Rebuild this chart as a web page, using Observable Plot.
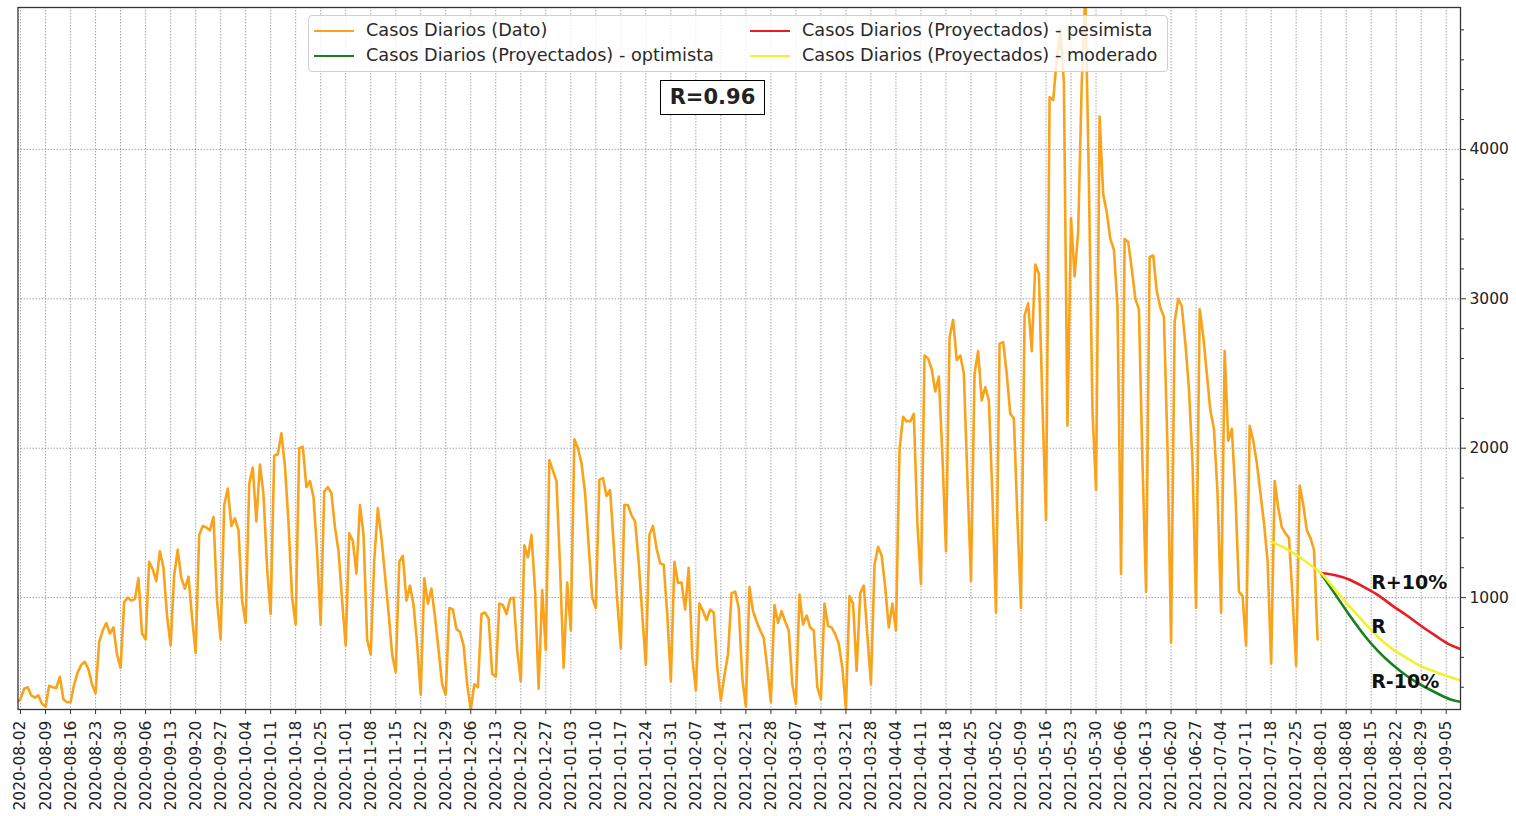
<!DOCTYPE html>
<html><head><meta charset="utf-8">
<script src="https://cdn.jsdelivr.net/npm/d3@7"></script>
<script src="https://cdn.jsdelivr.net/npm/@observablehq/plot@0.6"></script>
<style>
body{margin:0;background:#fff;}
#wrap{position:relative;width:1516px;height:816px;font-family:"DejaVu Sans",sans-serif;color:#222;}
#wrap svg{position:absolute;left:0;top:0;}
.legend{position:absolute;left:308px;top:15px;width:858px;height:55px;border:1px solid #d0d0d0;border-radius:4px;background:rgba(255,255,255,0.8);}
.item{position:absolute;font-size:17.7px;line-height:20px;white-space:nowrap;color:#2a2a2a;}
.swatch{position:absolute;width:40px;height:0;border-top:2.6px solid;}
.rbox{position:absolute;left:660px;top:80px;width:103px;height:33px;border:1.6px solid #000;background:#fff;font-weight:bold;font-size:21px;line-height:33px;text-align:center;}
</style></head>
<body><div id="wrap"></div>
<script>
// Casos diarios (dato), un valor por día desde 2020-08-01
const fechaInicio = "2020-08-01";
const casosDato = [300,
 320,390,400,345,330,345,290,
 270,410,400,395,470,320,300,
 300,420,500,550,570,520,420,
 360,700,780,830,760,800,620,
 530,970,1000,980,990,1130,760,
 720,1240,1190,1110,1310,1200,880,
 680,1150,1320,1130,1060,1140,870,
 630,1420,1480,1470,1450,1540,980,
 720,1620,1730,1480,1530,1450,980,
 830,1760,1870,1510,1890,1690,1200,
 890,1950,1960,2100,1880,1500,1000,
 820,2000,2010,1740,1780,1670,1310,
 820,1710,1740,1700,1470,1310,980,
 680,1430,1380,1160,1620,1420,720,
 620,1250,1600,1400,1150,900,620,
 500,1240,1280,980,1080,950,690,
 350,1130,960,1060,870,650,420,
 350,930,920,790,770,680,420,
 250,420,400,890,900,860,490,
 470,960,950,890,990,1000,650,
 440,1350,1270,1420,1050,390,1050,
 650,1920,1850,1780,1200,530,1100,
 780,2060,2000,1900,1700,1350,1000,
 930,1790,1800,1680,1720,1360,980,
 660,1620,1620,1550,1510,1240,890,
 550,1420,1480,1330,1230,1220,890,
 440,1240,1100,1100,920,1200,600,
 380,960,910,850,920,900,530,
 310,480,620,1030,1040,930,460,
 270,1070,910,840,780,730,530,
 300,950,830,910,840,780,420,
 290,1020,820,880,800,780,400,
 320,960,810,800,755,690,530,
 255,1010,960,510,1030,1080,750,
 420,1220,1340,1280,1070,800,960,
 780,1990,2210,2180,2180,2230,1500,
 1090,2620,2600,2530,2380,2480,1950,
 1310,2740,2860,2590,2620,2500,1800,
 1110,2500,2650,2320,2410,2320,1680,
 900,2700,2710,2500,2230,2200,1530,
 930,2890,2970,2650,3230,3170,2290,
 1520,4350,4330,4600,4800,4450,2150,
 3540,3150,3450,4450,5050,3780,2250,
 1720,4220,3700,3580,3400,3330,2950,
 1160,3400,3380,3200,3000,2930,1900,
 1040,3280,3290,3050,2940,2880,2000,
 700,2850,3000,2950,2700,2400,1900,
 930,2930,2750,2500,2250,2130,1700,
 900,2650,2050,2130,1700,1040,1010,
 680,2150,2050,1900,1700,1500,1250,
 560,1780,1600,1470,1430,1400,1000,
 545,1750,1620,1450,1400,1320,720];

// Proyecciones
const fechasModerado = ["2021-07-18","2021-07-22","2021-07-26","2021-07-30","2021-08-01","2021-08-05","2021-08-09","2021-08-13","2021-08-17","2021-08-21","2021-08-25","2021-08-29","2021-09-02","2021-09-06","2021-09-09"];
const moderado = [1375,1330,1270,1200,1163,1050,940,835,735,655,595,540,503,468,445];
const fechasProy = ["2021-08-01","2021-08-05","2021-08-09","2021-08-13","2021-08-17","2021-08-21","2021-08-25","2021-08-29","2021-09-02","2021-09-06","2021-09-09"];
const pesimista = [1165,1150,1120,1070,1015,945,880,810,745,685,655];
const optimista = [1160,1020,880,750,640,550,475,415,365,320,302];

// Etiquetas de escenarios
const etiquetasTexto = ["R+10%","R","R-10%"];
const etiquetasFecha = ["2021-08-15","2021-08-15","2021-08-15"];
const etiquetasValor = [1100,806,438];

// Ejes
const etiquetasX = ["2020-08-02","2020-08-09","2020-08-16","2020-08-23","2020-08-30","2020-09-06","2020-09-13","2020-09-20","2020-09-27","2020-10-04","2020-10-11","2020-10-18","2020-10-25","2020-11-01","2020-11-08","2020-11-15","2020-11-22","2020-11-29","2020-12-06","2020-12-13","2020-12-20","2020-12-27","2021-01-03","2021-01-10","2021-01-17","2021-01-24","2021-01-31","2021-02-07","2021-02-14","2021-02-21","2021-02-28","2021-03-07","2021-03-14","2021-03-21","2021-03-28","2021-04-04","2021-04-11","2021-04-18","2021-04-25","2021-05-02","2021-05-09","2021-05-16","2021-05-23","2021-05-30","2021-06-06","2021-06-13","2021-06-20","2021-06-27","2021-07-04","2021-07-11","2021-07-18","2021-07-25","2021-08-01","2021-08-08","2021-08-15","2021-08-22","2021-08-29","2021-09-05"];
const ticksY = [1000,2000,3000,4000];
const ticksYMenores = [400,600,800,1200,1400,1600,1800,2200,2400,2600,2800,3200,3400,3600,3800,4200,4400,4600,4800];

const t0 = new Date(fechaInicio + "T00:00Z").getTime();
const dato = casosDato.map((v, i) => ({fecha: new Date(t0 + i * 864e5), casos: v}));
const serie = (fechas, vals) => fechas.map((f, i) => ({fecha: new Date(f + "T00:00Z"), casos: vals[i]}));
const dMod = serie(fechasModerado, moderado);
const dPes = serie(fechasProy, pesimista);
const dOpt = serie(fechasProy, optimista);
const etiquetas = etiquetasTexto.map((t, i) => ({texto: t, fecha: new Date(etiquetasFecha[i] + "T00:00Z"), casos: etiquetasValor[i]}));
const tickDates = etiquetasX.map(s => new Date(s + "T00:00Z"));

const cOrange = "#f8a31b", cGreen = "#16801c", cRed = "#ec1b23", cYellow = "#f3f02e";

const chart = Plot.plot({
  width: 1516, height: 816,
  marginLeft: 17.5, marginRight: 56, marginTop: 7, marginBottom: 107,
  x: {type: "utc", domain: [new Date("2020-08-01T07:00Z"), new Date("2021-09-09T00:00Z")]},
  y: {domain: [251, 4950]},
  style: {fontFamily: "DejaVu Sans", fontSize: "15.5px", color: "#222", background: "transparent", overflow: "visible"},
  marks: [
    Plot.gridX({ticks: tickDates, stroke: "#8a8a8a", strokeOpacity: 0.75, strokeDasharray: "1.5,1.5"}),
    Plot.gridY({ticks: ticksY, stroke: "#8a8a8a", strokeOpacity: 0.75, strokeDasharray: "1.5,1.5"}),
    Plot.lineY(dato, {x: "fecha", y: "casos", stroke: cOrange, strokeWidth: 2.6, clip: true}),
    Plot.line(dOpt, {x: "fecha", y: "casos", stroke: cGreen, strokeWidth: 2.6, curve: "monotone-x", clip: true}),
    Plot.line(dPes, {x: "fecha", y: "casos", stroke: cRed, strokeWidth: 2.6, curve: "monotone-x", clip: true}),
    Plot.line(dMod, {x: "fecha", y: "casos", stroke: cYellow, strokeWidth: 2.6, curve: "monotone-x", clip: true}),
    Plot.text(etiquetas, {x: "fecha", y: "casos", text: "texto", textAnchor: "start", fontWeight: "bold", fontSize: 19, fill: "#111"}),
    Plot.frame({stroke: "#333", strokeWidth: 1.3}),
    Plot.axisX({ticks: tickDates, tickFormat: d3.utcFormat("%Y-%m-%d"), tickRotate: -90, tickSize: 5, tickPadding: 6, label: null, stroke: "#333"}),
    Plot.axisY({anchor: "right", ticks: ticksY, tickFormat: d3.format("d"), tickSize: 5, tickPadding: 4, label: null, stroke: "#333"}),
    Plot.axisY({anchor: "right", ticks: ticksYMenores, tickSize: 3, tickFormat: () => "", label: null, stroke: "#333"})
  ]
});

const wrap = document.getElementById("wrap");
wrap.appendChild(chart);

// Leyenda
const legendItems = [
  {texto: "Casos Diarios (Dato)", color: cOrange, col: 0, row: 0},
  {texto: "Casos Diarios (Proyectados) - optimista", color: cGreen, col: 0, row: 1},
  {texto: "Casos Diarios (Proyectados) - pesimista", color: cRed, col: 1, row: 0},
  {texto: "Casos Diarios (Proyectados) - moderado", color: cYellow, col: 1, row: 1}
];
const leg = document.createElement("div");
leg.className = "legend";
legendItems.forEach(it => {
  const sw = document.createElement("div");
  sw.className = "swatch";
  sw.style.borderTopColor = it.color;
  sw.style.left = (it.col ? 441 : 5) + "px";
  sw.style.top = (it.row ? 38.5 : 13.5) + "px";
  leg.appendChild(sw);
  const tx = document.createElement("div");
  tx.className = "item";
  tx.textContent = it.texto;
  tx.style.left = (it.col ? 493 : 57) + "px";
  tx.style.top = (it.row ? 29 : 4) + "px";
  leg.appendChild(tx);
});
wrap.appendChild(leg);

const rb = document.createElement("div");
rb.className = "rbox";
rb.textContent = "R=0.96";
wrap.appendChild(rb);
</script>
</body></html>
